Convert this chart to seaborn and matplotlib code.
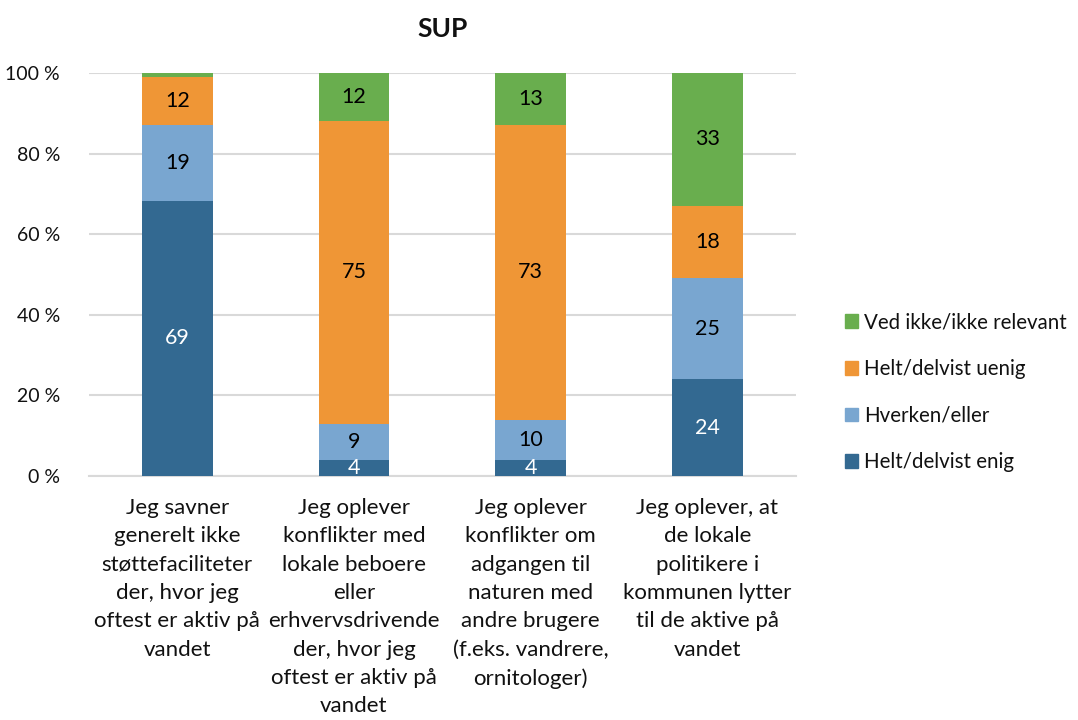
import matplotlib
matplotlib.use("Agg")
import matplotlib.pyplot as plt
import matplotlib.patches as mpatches
import numpy as np
import pandas as pd
import seaborn as sns

# Survey statements (x-axis categories)
statements = [
    "Jeg savner\ngenerelt ikke\nstøttefaciliteter\nder, hvor jeg\noftest er aktiv på\nvandet",
    "Jeg oplever\nkonflikter med\nlokale beboere\neller\nerhvervsdrivende\nder, hvor jeg\noftest er aktiv på\nvandet",
    "Jeg oplever\nkonflikter om\nadgangen til\nnaturen med\nandre brugere\n(f.eks. vandrere,\nornitologer)",
    "Jeg oplever, at\nde lokale\npolitikere i\nkommunen lytter\ntil de aktive på\nvandet",
]

# Answer shares (%) per statement, bottom to top
enig = [69, 4, 4, 24]
hverken = [19, 9, 10, 25]
uenig = [12, 75, 73, 18]
ved_ikke = [1, 12, 13, 33]

series_names = ["Helt/delvist enig", "Hverken/eller", "Helt/delvist uenig", "Ved ikke/ikke relevant"]
series_colors = ["#336991", "#79a6d0", "#ef9636", "#69ae4e"]
label_colors = ["white", "black", "black", "black"]

sns.set_theme(style="white")
plt.rcParams["font.family"] = ["Lato", "DejaVu Sans"]
plt.rcParams["text.color"] = "#111111"
plt.rcParams["xtick.color"] = "#111111"
plt.rcParams["ytick.color"] = "#111111"

raw = np.array([enig, hverken, uenig, ved_ikke], dtype=float)
shares = raw / raw.sum(axis=0) * 100
cum = np.cumsum(shares, axis=0)

fig = plt.figure(figsize=(10.78, 7.2), dpi=100)
ax = fig.add_axes([0.0826, 0.339, 0.6554, 0.5596])

# Draw stacked bars: tallest cumulative first so lower segments sit on top
for i in range(len(series_names) - 1, -1, -1):
    df = pd.DataFrame({"statement": statements, "value": cum[i]})
    sns.barplot(data=df, x="statement", y="value", color=series_colors[i],
                width=0.4, saturation=1, ax=ax, zorder=2, linewidth=0)

# Segment labels
for i in range(len(series_names)):
    for j in range(len(statements)):
        if raw[i, j] >= 2:
            mid = cum[i, j] - shares[i, j] / 2
            ax.text(j, mid, f"{int(raw[i, j])}", ha="center", va="center",
                    fontsize=15.5, color=label_colors[i], zorder=3)

ax.set_ylim(0, 100)
ax.set_xlim(-0.5, len(statements) - 0.5)
ax.set_yticks(np.arange(0, 101, 20))
ax.set_yticklabels([f"{t} %" for t in range(0, 101, 20)], fontsize=14)
ax.set_xlabel("")
ax.set_ylabel("")
ax.tick_params(axis="both", length=0)
ax.tick_params(axis="y", pad=21)
ax.tick_params(axis="x", pad=16)
for lbl in ax.get_xticklabels():
    lbl.set_fontsize(16)
    lbl.set_linespacing(1.52)
    lbl.set_multialignment("center")
    lbl.set_verticalalignment("top")

ax.yaxis.grid(True, color="#d9d9d9", linewidth=1.5, zorder=0)
ax.set_axisbelow(True)
for side in ["top", "right", "left"]:
    ax.spines[side].set_visible(False)
ax.spines["bottom"].set_color("#d9d9d9")
ax.spines["bottom"].set_linewidth(1.5)
ax.spines["bottom"].set_zorder(1)

ax.set_title("SUP", fontsize=19, fontweight="bold", pad=26)

handles = [mpatches.Patch(color=series_colors[i], label=series_names[i])
           for i in range(len(series_names) - 1, -1, -1)]
fig.legend(handles=handles, loc="center left", bbox_to_anchor=(0.776, 0.455),
           frameon=False, fontsize=14.8, handlelength=0.65, handleheight=0.65,
           handletextpad=0.3, labelspacing=1.3, borderaxespad=0)

fig.savefig("out.png", dpi=100)
